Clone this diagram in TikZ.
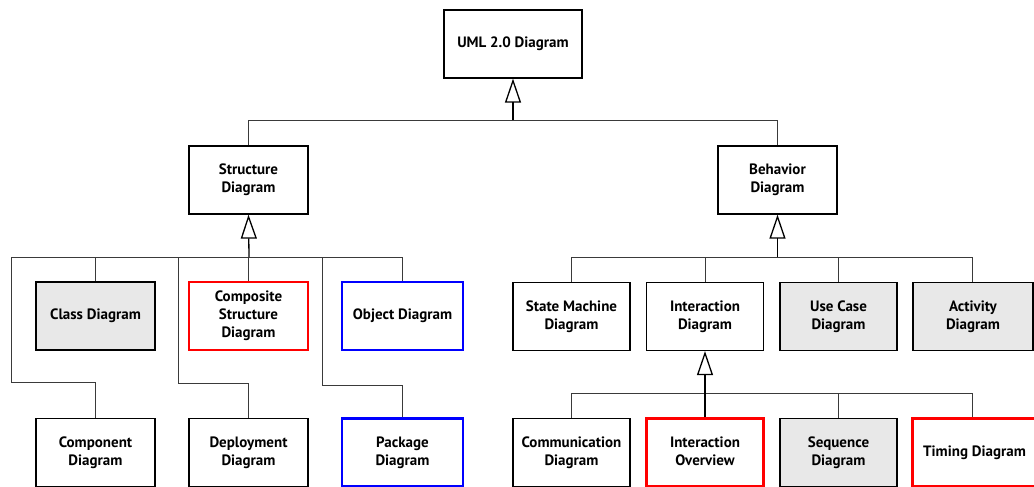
\documentclass[tikz,border=0pt]{standalone}
\usepackage{fontspec}
\setmainfont{PT Sans}
\usetikzlibrary{arrows.meta}
\definecolor{boxgrey}{HTML}{E8E8E8}
\definecolor{wire}{HTML}{3A3A3A}
\tikzset{
  x=1pt, y=-1pt,
  diag/.style={draw=black, line width=1.3pt, fill=white, minimum width=119pt,
    minimum height=68pt, inner sep=2pt, align=center,
    font=\fontsize{15}{18}\selectfont\bfseries},
  greybox/.style={diag, fill=boxgrey},
  redbox/.style={diag, draw=red, line width=2.2pt},
  bluebox/.style={diag, draw=blue, line width=2.2pt},
  branch/.style={draw=wire, line width=1pt},
  trunk/.style={draw=black, line width=1.3pt},
  inherit/.style={trunk, -{Triangle[open, width=16pt, length=24pt, line width=1.3pt]}},
}
\begin{document}
\begin{tikzpicture}
\useasboundingbox (0,0) rectangle (1034,487);
\clip (0,0) rectangle (1034,487);

% top level
\node[diag, minimum width=138pt] (uml) at (513,44) {UML 2.0 Diagram};
\node[diag] (struct) at (248.5,180) {Structure\\Diagram};
\node[diag] (behav) at (777.5,180) {Behavior\\Diagram};

% structure diagrams
\node[greybox] (class) at (95.5,316) {Class Diagram};
\node[redbox] (compo) at (248.5,316) {Composite\\Structure\\Diagram};
\node[bluebox, minimum width=121pt] (object) at (402.5,316) {Object Diagram};
\node[diag] (component) at (95.5,452.5) {Component\\Diagram};
\node[diag] (deploy) at (248.5,452.5) {Deployment\\Diagram};
\node[bluebox, minimum width=121pt] (package) at (402.5,452.5) {Package\\Diagram};

% behavior diagrams
\node[diag, minimum width=117pt] (state) at (571.5,316.5) {State Machine\\Diagram};
\node[diag, minimum width=117pt] (inter) at (705,316.5) {Interaction\\Diagram};
\node[greybox, minimum width=117pt] (usecase) at (838.5,316.5) {Use Case\\Diagram};
\node[greybox, minimum width=120pt] (activity) at (973,316.5) {Activity\\Diagram};
\node[diag, minimum width=117pt] (commu) at (571.5,452.5) {Communication\\Diagram};
\node[redbox, minimum width=117pt] (iover) at (705,452.5) {Interaction\\Overview\vphantom{g}};
\node[greybox, minimum width=117pt] (seq) at (838.5,452.5) {Sequence\\Diagram};
\node[redbox, minimum width=124pt] (timing) at (974.5,452.5) {Timing Diagram};

% bus coordinates
\coordinate (topL) at (249,120);
\coordinate (topR) at (777.5,120);
\coordinate (topM) at (513,120);
\coordinate (sL) at (11,257);
\coordinate (sM) at (249,257);
\coordinate (sR) at (402.5,257);
\coordinate (sD) at (178,257);
\coordinate (sP) at (322,257);
\coordinate (bL) at (571.5,257);
\coordinate (bM) at (777.5,257);
\coordinate (bR) at (972,257);
\coordinate (iL) at (571.5,393);
\coordinate (iM) at (705,393);
\coordinate (iR) at (972,393);

% UML 2.0 -> structure / behavior
\draw[branch] (topL) -- (topR);
\draw[branch] (struct.north) -- (struct.north |- topL);
\draw[branch] (behav.north) -- (behav.north |- topR);
\draw[inherit] (topM) -- (uml.south);

% structure branch
\draw[branch] (sL) -- (sR);
\draw[branch] (class.north) -- (class.north |- sL);
\draw[branch] (compo.north) -- (compo.north |- sL);
\draw[branch] (object.north) -- (object.north |- sL);
\draw[branch] (sL) -- (11,382) -| (component.north);
\draw[branch] (sD) -- (178,383) -| (deploy.north);
\draw[branch] (sP) -- (322,385) -| (package.north);
\draw[inherit] (sM) -- (struct.south);

% behavior branch
\draw[branch] (bL) -- (bR);
\draw[branch] (state.north) -- (state.north |- bL);
\draw[branch] (inter.north) -- (inter.north |- bL);
\draw[branch] (usecase.north) -- (usecase.north |- bL);
\draw[branch] (bR) -- (bR |- activity.north);
\draw[inherit] (bM) -- (behav.south);

% interaction branch
\draw[branch] (iL) -- (iR);
\draw[branch] (commu.north) -- (commu.north |- iL);
\draw[branch] (seq.north) -- (seq.north |- iL);
\draw[branch] (iR) -- (iR |- timing.north);
\draw[trunk] (iover.north) -- (iM);
\draw[inherit] (iM) -- (inter.south);
\end{tikzpicture}
\end{document}
